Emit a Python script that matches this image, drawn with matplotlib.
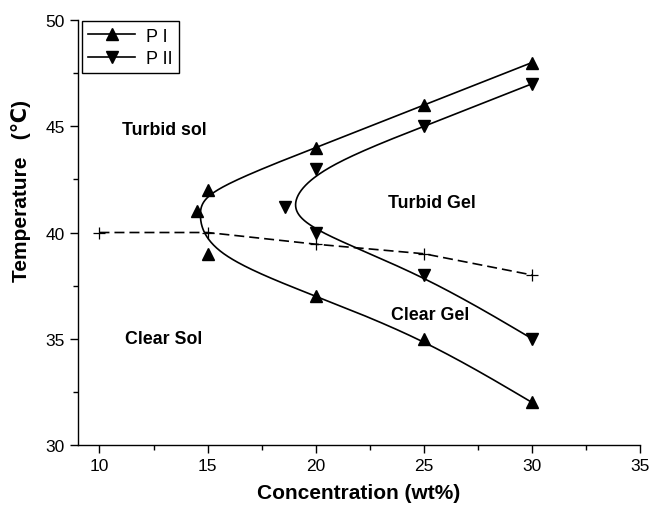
import numpy as np
import matplotlib.pyplot as plt
from matplotlib.ticker import MultipleLocator

plt.rcParams['font.family'] = ['Liberation Sans', 'DejaVu Sans']

# P I points, in order along the phase boundary
p1_x = [30, 25, 20, 15, 14.5, 15, 20, 25, 30]
p1_y = [48, 46, 44, 42, 41, 39, 37, 35, 32]
# P II points
p2_x = [30, 25, 20, 18.6, 20, 25, 30]
p2_y = [47, 45, 43, 41.2, 40, 38, 35]
# dashed boundary (+ markers)
d_x = [10, 15, 20, 25, 30]
d_y = [40, 40, 39.45, 39, 38]


def bspline(xs, ys, n=60):
    # uniform cubic B-spline through the control points, ends clamped
    pts = np.column_stack([xs, ys]).astype(float)
    pts = np.vstack([pts[0], pts[0], pts, pts[-1], pts[-1]])
    t = np.linspace(0, 1, n)
    b0 = (1 - t) ** 3 / 6
    b1 = (3 * t ** 3 - 6 * t ** 2 + 4) / 6
    b2 = (-3 * t ** 3 + 3 * t ** 2 + 3 * t + 1) / 6
    b3 = t ** 3 / 6
    out = []
    for i in range(len(pts) - 3):
        seg = (np.outer(b0, pts[i]) + np.outer(b1, pts[i + 1])
               + np.outer(b2, pts[i + 2]) + np.outer(b3, pts[i + 3]))
        out.append(seg)
    out = np.vstack(out)
    return out[:, 0], out[:, 1]


fig = plt.figure(figsize=(6.54, 5.10), dpi=100)
ax = fig.add_axes([0.119, 0.1255, 0.86, 0.8333])

c1x, c1y = bspline(p1_x, p1_y)
c2x, c2y = bspline(p2_x, p2_y)
ax.plot(c1x, c1y, color='k', lw=1.2)
ax.plot(c2x, c2y, color='k', lw=1.2)
ax.plot(p1_x, p1_y, ls='none', marker='^', ms=9, color='k')
ax.plot(p2_x, p2_y, ls='none', marker='v', ms=9, color='k')
ax.plot(d_x, d_y, color='k', ls='--', lw=1.2, marker='+', ms=9,
        markeredgewidth=0.9, dashes=(6, 3))

# legend proxies
h1, = ax.plot([], [], color='k', lw=1.2, marker='^', ms=9)
h2, = ax.plot([], [], color='k', lw=1.2, marker='v', ms=9)
leg = ax.legend([h1, h2], ['P I', 'P II'], loc='upper left',
                bbox_to_anchor=(0.007, 0.997), fontsize=13, fancybox=False,
                framealpha=1, edgecolor='k', borderaxespad=0.0,
                handlelength=2.6, handletextpad=0.6, borderpad=0.35,
                labelspacing=0.3)
leg.get_frame().set_linewidth(1.0)

lab = dict(fontsize=12.8, fontweight='bold', ha='center', va='center')
ax.text(13.0, 44.87, 'Turbid sol', **lab)
ax.text(25.35, 41.4, 'Turbid Gel', **lab)
ax.text(25.3, 36.15, 'Clear Gel', **lab)
ax.text(12.95, 35.0, 'Clear Sol', **lab)

ax.set_xlim(9, 35)
ax.set_ylim(30, 50)
ax.xaxis.set_major_locator(MultipleLocator(5))
ax.xaxis.set_minor_locator(MultipleLocator(2.5))
ax.yaxis.set_major_locator(MultipleLocator(5))
ax.yaxis.set_minor_locator(MultipleLocator(2.5))
ax.spines['top'].set_visible(False)
ax.spines['right'].set_visible(False)
for s in ['left', 'bottom']:
    ax.spines[s].set_linewidth(1.0)
ax.tick_params(which='major', direction='out', length=6, width=1.0,
               labelsize=12.5)
ax.tick_params(which='minor', direction='out', length=3.5, width=1.0)

ax.set_xlabel('Concentration (wt%)', fontsize=15, fontweight='bold',
              labelpad=7)
ax.set_ylabel('Temperature   (\u2103)', fontsize=15, fontweight='bold')
ax.yaxis.set_label_coords(-0.083, 0.6)

fig.savefig('out.png', dpi=100, facecolor='w')
plt.close()
